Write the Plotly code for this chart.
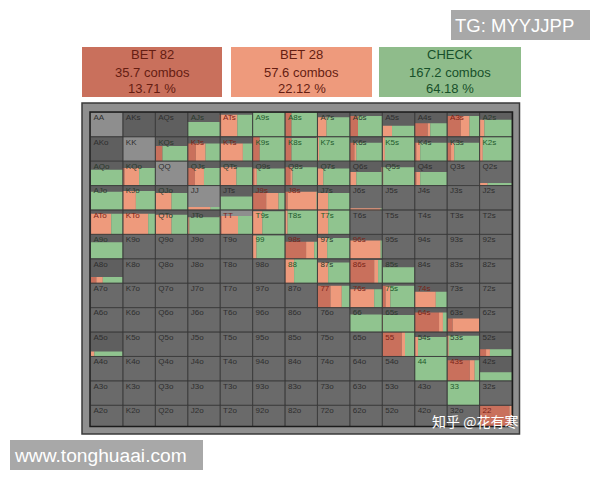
import plotly.graph_objects as go

ranks = ["A", "K", "Q", "J", "T", "9", "8", "7", "6", "5", "4", "3", "2"]

action_names = ["BET 82", "BET 28", "CHECK"]
action_combos = ["35.7 combos", "57.6 combos", "167.2 combos"]
action_pct = ["13.71 %", "22.12 %", "64.18 %"]

# how high the coloured block goes in each cell, 0-1
fill = [
    [0, 0, 0, .60, .90, 1.0, 1.0, .80, .85, .45, .55, .85, .70],
    [0, 0, .62, .72, .72, 1.0, .95, 1.0, .75, 1.0, .75, .75, 1.0],
    [.65, .72, 0, .72, .75, .70, .75, .70, .55, .75, .55, 0, .10],
    [.75, .78, .70, .12, .55, .70, .75, .70, .05, 0, 0, 0, 0],
    [.85, .85, .80, .70, .75, .95, 1.0, 1.0, 0, 0, 0, 0, 0],
    [.68, 0, 0, 0, 0, .95, .70, .85, .75, 0, 0, 0, 0],
    [.25, 0, 0, 0, 0, 0, 1.0, .85, .95, .65, 0, 0, 0],
    [0, 0, 0, 0, 0, 0, 0, .90, .75, .90, .65, 0, 0],
    [0, 0, 0, 0, 0, 0, 0, 0, .72, .70, .80, .55, 0],
    [.20, 0, 0, 0, 0, 0, 0, 0, 0, 1.0, .80, .85, .30],
    [0, 0, 0, 0, 0, 0, 0, 0, 0, 0, 1.0, .85, .35],
    [0, 0, 0, 0, 0, 0, 0, 0, 0, 0, 0, 1.0, 0],
    [0, 0, 0, 0, 0, 0, 0, 0, 0, 0, 0, 0, 1.0],
]
# share of the cell width per action, check takes what is left
bet82 = [
    [0, 0, 0, 0, .03, 0, .20, 0, .25, 0, .40, .42, 0],
    [0, 0, .22, .25, 0, .22, .20, 0, .15, 0, .05, .12, 0],
    [0, .05, 0, .22, 0, .05, .18, 0, 0, 0, .05, 0, 0],
    [0, 0, 0, 0, 0, .42, .08, 0, 0, 0, 0, 0, 0],
    [.02, 0, 0, 0, .05, 0, 0, 0, 0, 0, 0, 0, 0],
    [0, 0, 0, 0, 0, 0, .65, 0, 0, 0, 0, 0, 0],
    [.18, 0, 0, 0, 0, 0, 0, 0, .75, 0, 0, 0, 0],
    [0, 0, 0, 0, 0, 0, 0, .40, 0, .10, 0, 0, 0],
    [0, 0, 0, 0, 0, 0, 0, 0, 0, 0, .75, .17, 0],
    [0, 0, 0, 0, 0, 0, 0, 0, 0, .60, 0, 0, .20],
    [0, 0, 0, 0, 0, 0, 0, 0, 0, 0, 0, .70, 0],
    [0, 0, 0, 0, 0, 0, 0, 0, 0, 0, 0, 0, 0],
    [0, 0, 0, 0, 0, 0, 0, 0, 0, 0, 0, 0, .92],
]
bet28 = [
    [0, 0, 0, 0, .50, 0, 0, .28, 0, .30, .08, .27, .15],
    [0, 0, 0, .30, .70, 0, 0, .05, .05, .08, .12, .10, .10],
    [0, .45, 0, .28, .50, .08, .05, .18, .20, .03, .12, 0, .25],
    [0, .40, .50, .70, 0, .38, .90, .33, .95, 0, 0, 0, 0],
    [.62, .78, .50, .05, .50, .30, .08, .33, 0, 0, 0, 0, 0],
    [0, 0, 0, 0, 0, .12, .25, .30, .95, 0, 0, 0, 0],
    [.20, 0, 0, 0, 0, 0, .28, .33, .12, 0, 0, 0, 0],
    [0, 0, 0, 0, 0, 0, 0, .35, .75, .15, .65, 0, 0],
    [0, 0, 0, 0, 0, 0, 0, 0, 0, .02, .12, .83, 0],
    [.12, 0, 0, 0, 0, 0, 0, 0, 0, .10, .10, .05, .12],
    [0, 0, 0, 0, 0, 0, 0, 0, 0, 0, 0, .15, 0],
    [0, 0, 0, 0, 0, 0, 0, 0, 0, 0, 0, 0, 0],
    [0, 0, 0, 0, 0, 0, 0, 0, 0, 0, 0, 0, .08],
]
light_hands = ["AA", "KK", "QQ", "JJ", "TT"]
dark_hands = ["AKs", "AQs", "AKo"]

RED = "#c9705c"
SALMON = "#ee9a7c"
GREEN = "#90c48f"
# the page body keeps its 8px margin
W, H, PAGE = 584, 464, 8


def hand_name(r, c):
    if r == c:
        return ranks[r] * 2
    if c > r:
        return ranks[r] + ranks[c] + "s"
    return ranks[c] + ranks[r] + "o"


def px(x):
    return (x - PAGE) / W


def py(y):
    return 1 - (y - PAGE) / H


cx, cy, cbg, labels, label_cols = [], [], [], [], []
seg = {"red": ([], [], [], []), "salmon": ([], [], [], []), "green": ([], [], [], [])}

for r in range(13):
    for c in range(13):
        name = hand_name(r, c)
        h = fill[r][c]
        a, b = bet82[r][c], bet28[r][c]
        cx.append(c + .5)
        cy.append(12 - r)
        labels.append(name)
        if name in light_hands:
            cbg.append("#8e8e8e")
        elif h > .1 or name in dark_hands:
            cbg.append("#5f5f5f")
        else:
            cbg.append("#6a6a6a")
        # label takes a tint of whatever is behind it
        if h < .6:
            label_cols.append("#2e2e2e")
        elif a + b > .5:
            label_cols.append("#7a2418")
        elif h >= .9:
            label_cols.append("#1e5a2c")
        else:
            label_cols.append("#2b3a2d")
        if h == 0:
            continue
        start = c
        for key, share in (("red", a), ("salmon", b), ("green", 1 - a - b)):
            if share <= 0:
                continue
            xs, bases, ys, widths = seg[key]
            xs.append(start + share / 2)
            bases.append(12 - r)
            ys.append(h)
            widths.append(share)
            start += share

fig = go.Figure()
# cell backgrounds
fig.add_trace(go.Bar(x=cx, y=[1] * len(cx), base=cy, width=1,
                     marker=dict(color=cbg, line=dict(width=0)), hoverinfo="skip"))
for key, col in (("red", RED), ("salmon", SALMON), ("green", GREEN)):
    xs, bases, ys, widths = seg[key]
    fig.add_trace(go.Bar(x=xs, y=ys, base=bases, width=widths,
                         marker=dict(color=col, line=dict(width=0)), name=key))
# grid lines on top of the blocks
fig.add_trace(go.Bar(x=cx, y=[1] * len(cx), base=cy, width=1,
                     marker=dict(color="rgba(0,0,0,0)", line=dict(color="#3a3a3a", width=.7)),
                     hoverinfo="skip"))
fig.add_trace(go.Scatter(x=[v - .41 for v in cx], y=[v + .76 for v in cy], mode="text",
                         text=labels, textposition="middle right",
                         textfont=dict(size=8, color=label_cols, family="Liberation Sans"),
                         hoverinfo="skip"))

shapes = [
    # bevelled frame round the grid
    dict(type="rect", xref="paper", yref="paper", x0=px(82), x1=px(519.5), y0=py(434), y1=py(103),
         fillcolor="#8f8f8f", line=dict(color="#3a3a3a", width=1.5), layer="below"),
    dict(type="rect", xref="paper", yref="paper", x0=px(90), x1=px(512.5), y0=py(426.5), y1=py(112),
         fillcolor="rgba(0,0,0,0)", line=dict(color="#1c1c1c", width=1.5), layer="above"),
    # watermark boxes
    dict(type="rect", xref="paper", yref="paper", x0=px(451), x1=px(590), y0=py(40), y1=py(10),
         fillcolor="#a8a8a8", line=dict(width=0)),
    dict(type="rect", xref="paper", yref="paper", x0=px(10), x1=px(203), y0=py(470), y1=py(440),
         fillcolor="#a8a8a8", line=dict(width=0)),
]
annotations = [
    dict(x=px(453), y=py(25), text="TG: MYYJJPP", font=dict(size=18.5, color="white")),
    dict(x=px(12), y=py(455), text="www.tonghuaai.com", font=dict(size=19.2, color="white")),
    dict(x=px(430), y=py(421), text="知乎 @花有寒",
         font=dict(size=14, color="white", family="Noto Sans CJK SC")),
]

box_left = [82, 231, 379]
box_right = [222, 372, 521]
box_cols = [RED, SALMON, "#8fbc8b"]
box_text = ["#651d12", "#651d12", "#17502a"]
for i in range(3):
    shapes.append(dict(type="rect", xref="paper", yref="paper",
                       x0=px(box_left[i]), x1=px(box_right[i]), y0=py(97), y1=py(47),
                       fillcolor=box_cols[i], line=dict(width=0)))
    for yy, txt in ((55, action_names[i]), (72, action_combos[i]), (88, action_pct[i])):
        annotations.append(dict(x=px((box_left[i] + box_right[i]) / 2), y=py(yy), text=txt,
                                xanchor="center", font=dict(size=13, color=box_text[i])))

for a in annotations:
    a.update(xref="paper", yref="paper", showarrow=False, yanchor="middle")
    a.setdefault("xanchor", "left")

fig.update_layout(
    width=W, height=H, margin=dict(l=0, r=0, t=0, b=0), autosize=False,
    paper_bgcolor="white", plot_bgcolor="#6a6a6a", showlegend=False, barmode="overlay",
    font=dict(family="Liberation Sans"), shapes=shapes, annotations=annotations,
    xaxis=dict(domain=[px(90.5), px(512)], range=[0, 13], visible=False, fixedrange=True),
    yaxis=dict(domain=[py(426.3), py(112.3)], range=[.14, 13], visible=False, fixedrange=True),
)

fig.write_html("out.html")
